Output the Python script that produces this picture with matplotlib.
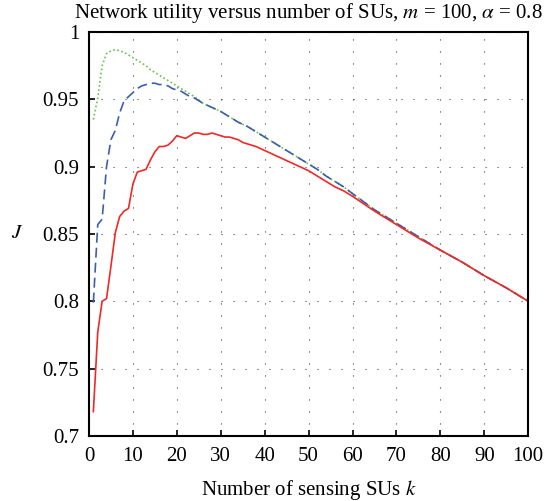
import matplotlib
matplotlib.use("Agg")
import matplotlib.pyplot as plt

# ---- data ----
k_red = list(range(1, 36)) + list(range(36, 61, 2)) + list(range(65, 101, 5))
J_red = [0.718, 0.777, 0.800, 0.802, 0.826, 0.851, 0.863, 0.867, 0.869, 0.887,
         0.896, 0.897, 0.898, 0.905, 0.911, 0.915, 0.915, 0.916, 0.919, 0.923,
         0.922, 0.921, 0.923, 0.925, 0.925, 0.924, 0.924, 0.925, 0.924, 0.923,
         0.922, 0.922, 0.921, 0.920, 0.918,
         0.917, 0.915, 0.912, 0.909, 0.906, 0.903, 0.900, 0.897, 0.893, 0.889,
         0.885, 0.882, 0.878,
         0.867, 0.857, 0.847, 0.838, 0.829, 0.819, 0.810, 0.800]

k_blue = list(range(1, 25)) + list(range(26, 61, 2)) + list(range(65, 101, 5))
J_blue = [0.799, 0.857, 0.861, 0.900, 0.920, 0.927, 0.940, 0.949, 0.952, 0.955,
          0.958, 0.960, 0.961, 0.962, 0.962, 0.961, 0.961, 0.960, 0.958, 0.957,
          0.956, 0.954, 0.952, 0.951,
          0.947, 0.944, 0.941, 0.937, 0.933, 0.930, 0.926, 0.922, 0.918, 0.914,
          0.910, 0.906, 0.902, 0.898, 0.893, 0.889, 0.885, 0.880,
          0.868, 0.858, 0.848, 0.838, 0.829, 0.819, 0.810, 0.800]

k_green = list(range(1, 25)) + list(range(26, 61, 2)) + list(range(65, 101, 5))
J_green = [0.935, 0.951, 0.975, 0.984, 0.986, 0.987, 0.986, 0.985, 0.983, 0.981,
           0.979, 0.977, 0.975, 0.972, 0.970, 0.968, 0.966, 0.964, 0.962, 0.960,
           0.958, 0.956, 0.954, 0.952,
           0.947, 0.944, 0.941, 0.937, 0.933, 0.930, 0.926, 0.922, 0.918, 0.914,
           0.910, 0.906, 0.902, 0.898, 0.893, 0.889, 0.885, 0.880,
           0.868, 0.858, 0.848, 0.838, 0.829, 0.819, 0.810, 0.800]

x_ticks = list(range(0, 101, 10))
y_ticks = [0.7, 0.75, 0.8, 0.85, 0.9, 0.95, 1.0]
y_ticklabels = ["0.7", "0.75", "0.8", "0.85", "0.9", "0.95", "1"]

plt.rcParams['font.family'] = ['Liberation Serif', 'DejaVu Serif']
plt.rcParams['mathtext.fontset'] = 'stix'

fig = plt.figure(figsize=(5.56, 5.01), dpi=100)
ax = fig.add_axes([0.160, 0.130, 0.790, 0.806])

ax.plot(k_green, J_green, color='#6cbf4a', lw=1.2, linestyle=(0, (1, 1.5)))
ax.plot(k_blue, J_blue, color='#3b5fae', lw=1.2, linestyle=(0, (6, 3)))
ax.plot(k_red, J_red, color='#f02828', lw=1.2)

ax.set_xlim(0, 100)
ax.set_ylim(0.7, 1.0)
ax.set_xticks(x_ticks)
ax.set_yticks(y_ticks)
ax.set_yticklabels(y_ticklabels)
ax.grid(True, color='#444444', linestyle=(0, (1, 9.8)), linewidth=0.8)
ax.tick_params(direction='in', length=4, width=1.2, labelsize=15, pad=7,
               top=False, right=False)
ax.tick_params(axis='x', pad=8)
for s in ax.spines.values():
    s.set_linewidth(1.5)

ax.set_xlabel("Number of sensing SUs $k$", fontsize=15, labelpad=9)
ax.set_ylabel("$J$", fontsize=15, rotation=0, labelpad=18, va='center')
ax.set_title(r"Network utility versus number of SUs, $m$ = 100, $\alpha$ = 0.8",
             fontsize=15, pad=10)

fig.savefig("out.png", dpi=100)
